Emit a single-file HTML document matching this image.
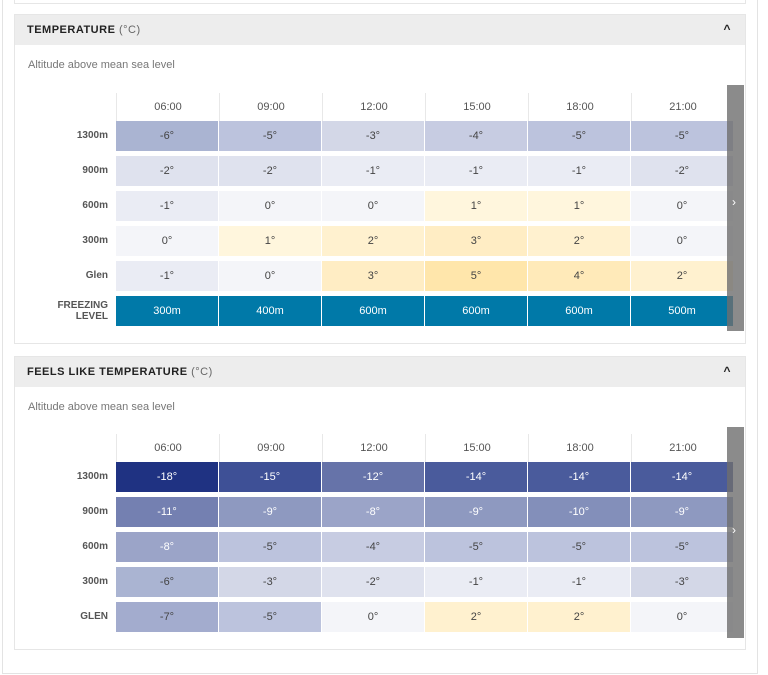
<!DOCTYPE html>
<html><head><meta charset="utf-8"><style>
*{margin:0;padding:0;box-sizing:border-box}
body{width:768px;height:675px;background:#fff;font-family:"Liberation Sans",sans-serif;position:relative;overflow:hidden;color:#444}
.outer{position:absolute;left:2px;top:-2px;width:756px;height:676px;border:1px solid #e3e3e3}
.topbox{position:absolute;left:14px;top:-2px;width:732px;height:6px;border:1px solid #e6e6e6;border-top:none}
.sec{position:absolute;left:14px;width:732px;border:1px solid #e6e6e6;background:#fff}
.hd{height:30px;background:#ededed;font-size:11px;font-weight:bold;letter-spacing:.5px;color:#222;padding:9px 12px;position:relative}
.hd span{font-weight:normal;color:#666}
.hd .car{position:absolute;right:14px;top:7px;font-size:12px}
.alt{position:absolute;left:13px;font-size:11px;color:#777}
.row{position:absolute;left:0;display:flex;height:30px}
.lab{width:101px;text-align:right;padding-right:8px;font-size:10px;font-weight:bold;color:#555;line-height:30px}
.c{width:102px;margin-right:1px;text-align:center;font-size:11px;line-height:30px;color:#444}
.h .c{color:#555;border-left:1px solid #e8e8e8;margin-right:0;width:103px;height:28px;line-height:28px}
.w{color:#fff}
.fz .c{background:#0079a8;color:#fff}
.sb{position:absolute;left:712px;width:17px;background:rgba(110,110,110,.8)}
.sb b{position:absolute;left:5px;color:#fff;font-size:12px;font-weight:normal}
</style></head><body>
<div class="outer"></div>
<div class="topbox"></div>

<div class="sec" style="top:14px;height:330px">
<div class="hd">TEMPERATURE <span>(°C)</span><div class="car">^</div></div>
<div class="alt" style="top:44px">Altitude above mean sea level</div>
<div class="row h" style="top:78px"><div class="lab"></div><div class="c">06:00</div><div class="c">09:00</div><div class="c">12:00</div><div class="c">15:00</div><div class="c">18:00</div><div class="c">21:00</div></div>
<div class="row" style="top:106px"><div class="lab">1300m</div><div class="c" style="background:#aab4d2">-6°</div><div class="c" style="background:#bcc3dd">-5°</div><div class="c" style="background:#d3d7e7">-3°</div><div class="c" style="background:#c7cce2">-4°</div><div class="c" style="background:#bcc3dd">-5°</div><div class="c" style="background:#bcc3dd">-5°</div></div>
<div class="row" style="top:141px"><div class="lab">900m</div><div class="c" style="background:#dfe2ee">-2°</div><div class="c" style="background:#dfe2ee">-2°</div><div class="c" style="background:#eaecf4">-1°</div><div class="c" style="background:#eaecf4">-1°</div><div class="c" style="background:#eaecf4">-1°</div><div class="c" style="background:#dfe2ee">-2°</div></div>
<div class="row" style="top:176px"><div class="lab">600m</div><div class="c" style="background:#eaecf4">-1°</div><div class="c" style="background:#f4f5f9">0°</div><div class="c" style="background:#f4f5f9">0°</div><div class="c" style="background:#fff6dd">1°</div><div class="c" style="background:#fff6dd">1°</div><div class="c" style="background:#f4f5f9">0°</div></div>
<div class="row" style="top:211px"><div class="lab">300m</div><div class="c" style="background:#f4f5f9">0°</div><div class="c" style="background:#fff6dd">1°</div><div class="c" style="background:#fff1cf">2°</div><div class="c" style="background:#ffedc4">3°</div><div class="c" style="background:#fff1cf">2°</div><div class="c" style="background:#f4f5f9">0°</div></div>
<div class="row" style="top:246px"><div class="lab">Glen</div><div class="c" style="background:#eaecf4">-1°</div><div class="c" style="background:#f4f5f9">0°</div><div class="c" style="background:#ffedc4">3°</div><div class="c" style="background:#ffe6ab">5°</div><div class="c" style="background:#ffeab9">4°</div><div class="c" style="background:#fff1cf">2°</div></div>
<div class="row fz" style="top:281px"><div class="lab" style="line-height:11px;padding-top:4px">FREEZING<br>LEVEL</div><div class="c">300m</div><div class="c">400m</div><div class="c">600m</div><div class="c">600m</div><div class="c">600m</div><div class="c">500m</div></div>
<div class="sb" style="top:70px;height:246px"><b style="top:110px">›</b></div>
</div>

<div class="sec" style="top:356px;height:294px">
<div class="hd">FEELS LIKE TEMPERATURE <span>(°C)</span><div class="car">^</div></div>
<div class="alt" style="top:44px">Altitude above mean sea level</div>
<div class="row h" style="top:77px"><div class="lab"></div><div class="c">06:00</div><div class="c">09:00</div><div class="c">12:00</div><div class="c">15:00</div><div class="c">18:00</div><div class="c">21:00</div></div>
<div class="row" style="top:105px"><div class="lab">1300m</div><div class="c w" style="background:#1f3282">-18°</div><div class="c w" style="background:#3e5096">-15°</div><div class="c w" style="background:#6673a9">-12°</div><div class="c w" style="background:#4a5b9c">-14°</div><div class="c w" style="background:#4a5b9c">-14°</div><div class="c w" style="background:#4a5b9c">-14°</div></div>
<div class="row" style="top:140px"><div class="lab">900m</div><div class="c w" style="background:#7480b1">-11°</div><div class="c w" style="background:#8e99c0">-9°</div><div class="c w" style="background:#9ba4c8">-8°</div><div class="c w" style="background:#8e99c0">-9°</div><div class="c w" style="background:#838fba">-10°</div><div class="c w" style="background:#8e99c0">-9°</div></div>
<div class="row" style="top:175px"><div class="lab">600m</div><div class="c w" style="background:#9ba4c8">-8°</div><div class="c" style="background:#bcc3dd">-5°</div><div class="c" style="background:#c7cce2">-4°</div><div class="c" style="background:#bcc3dd">-5°</div><div class="c" style="background:#bcc3dd">-5°</div><div class="c" style="background:#bcc3dd">-5°</div></div>
<div class="row" style="top:210px"><div class="lab">300m</div><div class="c" style="background:#aab4d2">-6°</div><div class="c" style="background:#d3d7e7">-3°</div><div class="c" style="background:#dfe2ee">-2°</div><div class="c" style="background:#eaecf4">-1°</div><div class="c" style="background:#eaecf4">-1°</div><div class="c" style="background:#d3d7e7">-3°</div></div>
<div class="row" style="top:245px"><div class="lab">GLEN</div><div class="c" style="background:#a3acce">-7°</div><div class="c" style="background:#bcc3dd">-5°</div><div class="c" style="background:#f4f5f9">0°</div><div class="c" style="background:#fff1cf">2°</div><div class="c" style="background:#fff1cf">2°</div><div class="c" style="background:#f4f5f9">0°</div></div>
<div class="sb" style="top:70px;height:211px"><b style="top:96px">›</b></div>
</div>
</body></html>
